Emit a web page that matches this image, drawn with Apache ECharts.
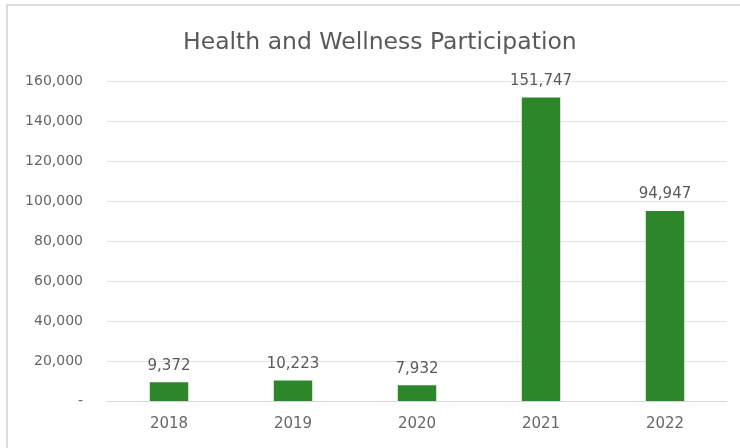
<!DOCTYPE html>
<html><head><meta charset="utf-8">
<script src="https://cdn.jsdelivr.net/npm/echarts@6/dist/echarts.min.js"></script>
<style>
html,body{margin:0;padding:0;background:#fff;overflow:hidden;}
#frame{position:absolute;left:6px;top:4px;width:740px;height:450px;border-left:2px solid #dcdcdc;border-top:2px solid #dcdcdc;box-sizing:border-box;}
#c{position:absolute;left:0;top:0;width:740px;height:448px;}
</style></head>
<body>
<div id="frame"></div>
<div id="c"></div>
<script>
const categories = ['2018','2019','2020','2021','2022'];
const participation = [9372, 10223, 7932, 151747, 94947];
const yTicks = { min: 0, max: 160000, interval: 20000 };

const FONT = 'DejaVu Sans';
const fmt = v => v === 0 ? '-' : v.toLocaleString('en-US');
const chart = echarts.init(document.getElementById('c'), null, {renderer:'canvas'});
chart.setOption({
  backgroundColor: 'transparent',
  animation: false,
  title: {
    text: 'Health and Wellness Participation',
    left: 178, top: 26,
    textStyle: { fontFamily: FONT, fontSize: 23.5, fontWeight: 'normal', color: '#595959' }
  },
  grid: { left: 107, right: 13, top: 81, bottom: 47, containLabel: false },
  xAxis: {
    type: 'category', data: categories,
    axisLine: { lineStyle: { color: '#d9d9d9' } },
    axisTick: { show: false },
    axisLabel: { fontFamily: FONT, fontSize: 15, color: '#666666', margin: 16 }
  },
  yAxis: {
    type: 'value', min: yTicks.min, max: yTicks.max, interval: yTicks.interval,
    axisLine: { show: false }, axisTick: { show: false },
    splitLine: { lineStyle: { color: '#e3e3e3' } },
    axisLabel: { fontFamily: FONT, fontSize: 14, color: '#666666', margin: 24, formatter: fmt }
  },
  series: [{
    type: 'bar', data: participation, barWidth: '31%',
    itemStyle: { color: '#2e862b' },
    label: { show: true, position: 'top', distance: 9, fontFamily: FONT, fontSize: 15, color: '#595959', formatter: p => fmt(p.value) }
  }]
});
</script>
</body></html>
